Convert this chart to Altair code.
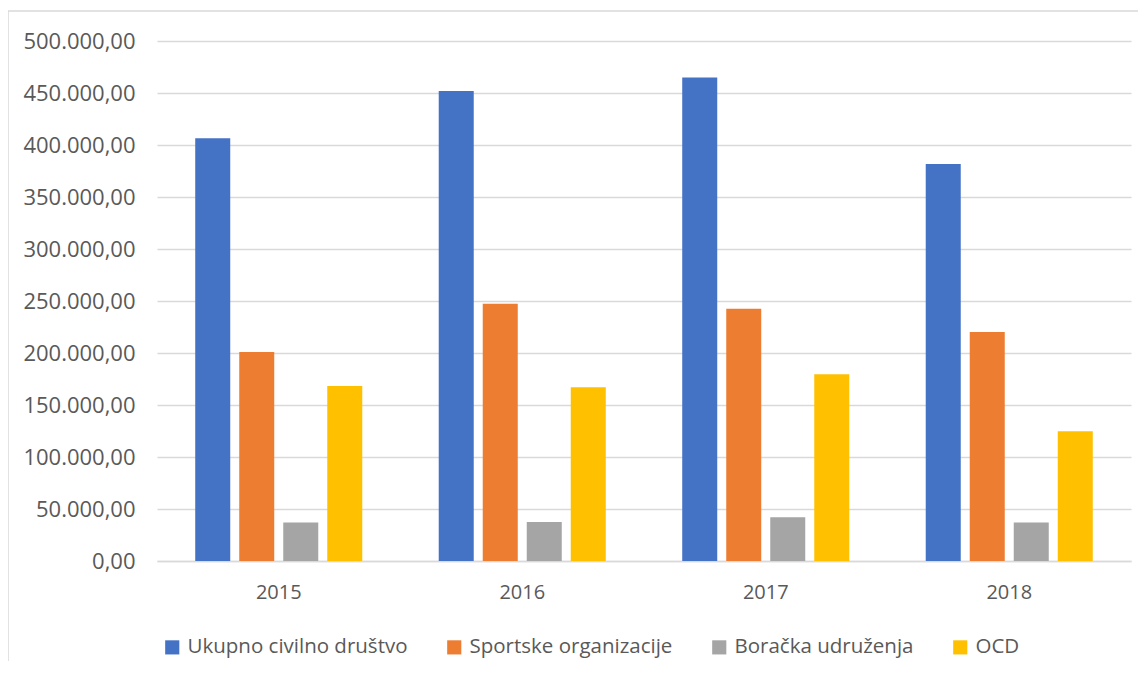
import altair as alt
import pandas as pd

years = ["2015", "2016", "2017", "2018"]
series = ["Ukupno civilno društvo", "Sportske organizacije", "Boračka udruženja", "OCD"]
ukupno = [406400, 451900, 465000, 381700]
sportske = [201000, 247400, 242600, 220200]
boracka = [37000, 37500, 42000, 37000]
ocd = [168300, 167000, 179500, 124700]
colors = ["#4472C4", "#ED7D31", "#A5A5A5", "#FFC000"]
y_ticks = list(range(0, 500001, 50000))

rows = []
for s, vals in zip(series, [ukupno, sportske, boracka, ocd]):
    for yr, v in zip(years, vals):
        rows.append({"Godina": yr, "Serija": s, "Iznos": v})
df = pd.DataFrame(rows)

FONT = "Open Sans"
TXT = "#595959"
GRID = "#D9D9D9"

label_expr = "replace(replace(replace(format(datum.value, ',.2f'), ',', '#'), '.', ','), '#', '.')"

bars = alt.Chart(df).mark_bar().encode(
    x=alt.X("Godina:N", sort=years, title=None,
            scale=alt.Scale(paddingInner=0.314, paddingOuter=0.157),
            axis=alt.Axis(labelAngle=0, labelFontSize=20, labelColor=TXT, labelFont=FONT,
                          labelPadding=21, ticks=False, domainColor=GRID, domainWidth=1.5,
                          grid=False)),
    xOffset=alt.XOffset("Serija:N", sort=series,
                        scale=alt.Scale(paddingInner=0.2045, paddingOuter=0)),
    y=alt.Y("Iznos:Q", title=None, scale=alt.Scale(domain=[0, 500000], nice=False),
            axis=alt.Axis(values=y_ticks, labelExpr=label_expr, labelFontSize=22,
                          labelColor=TXT, labelFont=FONT, labelPadding=22, ticks=False,
                          domain=False, gridColor=GRID, gridWidth=1.5)),
    color=alt.Color("Serija:N", sort=series,
                    scale=alt.Scale(domain=series, range=colors),
                    legend=alt.Legend(title=None, orient="none", legendX=5, legendY=596,
                                      direction="horizontal", symbolType="square",
                                      symbolSize=200, symbolStrokeWidth=0,
                                      labelFontSize=20.5, labelFont=FONT, labelColor=TXT,
                                      columnPadding=36, labelLimit=0, labelOffset=5)),
)

border_df = pd.DataFrame({"k": [0]})
top_border = alt.Chart(border_df).mark_rule(color=GRID, strokeWidth=1.5).encode(
    x=alt.value(-149), x2=alt.value(1000), y=alt.value(-30))
left_border = alt.Chart(border_df).mark_rule(color=GRID, strokeWidth=1.5).encode(
    x=alt.value(-149), y=alt.value(-30), y2=alt.value(700))

chart = alt.layer(bars, top_border, left_border).properties(
    width=974, height=520,
    autosize=alt.AutoSizeParams(type="none"),
    padding={"left": 149, "top": 33, "right": 7, "bottom": 100},
    background="white",
).configure_view(stroke=None)

chart.save("out.html", embed_options={"renderer": "svg", "actions": False})
